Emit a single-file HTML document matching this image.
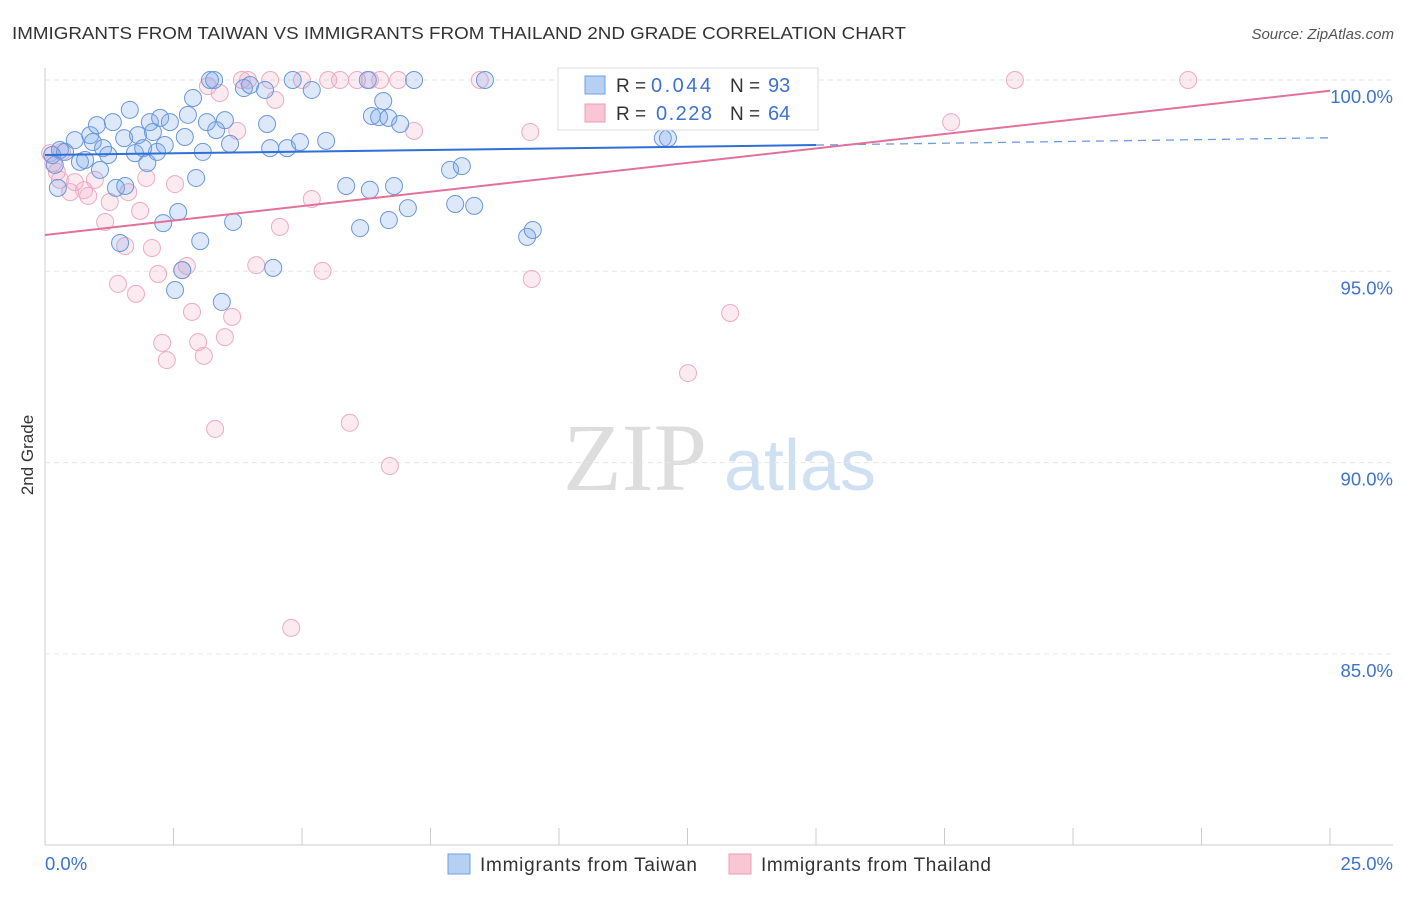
<!DOCTYPE html>
<html><head><meta charset="utf-8"><style>
body{margin:0;background:#fff;font-family:"Liberation Sans",sans-serif;}
</style></head><body>
<svg id="chart" width="1406" height="892" xmlns="http://www.w3.org/2000/svg" font-family="Liberation Sans, sans-serif">
<text x="12" y="39" font-size="17.5" fill="#333" textLength="894" lengthAdjust="spacingAndGlyphs">IMMIGRANTS FROM TAIWAN VS IMMIGRANTS FROM THAILAND 2ND GRADE CORRELATION CHART</text>
<text x="1394" y="39" font-size="15" fill="#555" text-anchor="end" font-style="italic">Source: ZipAtlas.com</text>
<text transform="translate(33,455) rotate(-90)" font-size="17" fill="#333" text-anchor="middle">2nd Grade</text>
<g>
<text x="635" y="490" font-size="96" fill="#ddd" font-family="Liberation Serif, serif" text-anchor="middle">ZIP</text>
<text x="800" y="490" font-size="72" fill="#cfe0f3" text-anchor="middle">atlas</text></g>
<g id="grid"></g><g id="axes"></g><g id="marks"></g>
<g>
<rect x="558" y="68" width="260" height="62" fill="#fff" stroke="#ddd"/>
<rect x="585" y="76" width="20" height="18" fill="#b6d0f3" stroke="#6f9fe0"/>
<rect x="585" y="104" width="20" height="18" fill="#f9c6d6" stroke="#eb9cb6"/>
<text x="616" y="92" font-size="19" fill="#333">R =</text>
<text x="651" y="92" font-size="20" fill="#3d72d0" textLength="60">0.044</text>
<text x="730" y="92" font-size="19" fill="#333">N =</text>
<text x="768" y="92" font-size="20" fill="#3d72d0">93</text>
<text x="616" y="120" font-size="19" fill="#333">R =</text>
<text x="656" y="120" font-size="20" fill="#3d72d0" textLength="56">0.228</text>
<text x="730" y="120" font-size="19" fill="#333">N =</text>
<text x="768" y="120" font-size="20" fill="#3d72d0">64</text>
</g>
<g>
<rect x="448" y="854" width="22" height="20" fill="#b6d0f3" stroke="#6f9fe0"/>
<text x="480" y="871" font-size="19" fill="#333" textLength="217">Immigrants from Taiwan</text>
<rect x="729" y="854" width="22" height="20" fill="#f9c6d6" stroke="#eb9cb6"/>
<text x="761" y="871" font-size="19" fill="#333" textLength="230">Immigrants from Thailand</text>
</g>
</svg>
<script>
const yTicks=[100,95,90,85];
const yTickLabels=["100.0%","95.0%","90.0%","85.0%"];
const xTickLabels=["0.0%","25.0%"];
const taiwanX=[0.14,0.29,0.19,0.25,0.39,0.58,0.68,0.78,0.88,0.93,1.01,1.07,1.13,1.23,1.32,1.38,1.46,1.56,1.54,1.65,1.75,1.81,1.91,1.99,2.04,2.10,2.18,2.24,2.33,2.30,2.43,2.53,2.59,2.67,2.72,2.78,2.88,2.94,3.02,3.07,3.15,3.21,3.29,3.33,3.44,3.50,3.60,3.66,3.87,3.99,4.28,4.32,4.38,4.44,4.71,4.82,4.96,5.19,5.47,5.86,6.13,6.28,6.32,6.36,6.50,6.58,6.69,6.68,6.79,6.91,7.06,7.18,7.88,7.98,8.11,8.35,8.56,9.38,9.49,12.02,12.12,11.77];
const taiwanY=[98.04,98.17,97.78,97.18,98.12,98.43,97.86,97.91,98.56,98.38,98.82,97.65,98.22,98.04,98.90,97.18,95.74,97.23,98.48,99.22,98.09,98.56,98.22,97.83,98.90,98.64,98.12,99.01,98.30,96.26,98.90,94.51,96.55,95.03,98.51,99.09,99.53,97.44,95.79,98.12,98.90,100,100,98.69,94.20,98.95,98.33,96.29,99.79,99.87,99.74,98.85,98.22,95.09,98.22,100,98.38,99.74,98.41,97.23,96.13,100,97.13,99.06,99.03,99.45,96.34,99.01,97.23,98.85,96.65,100,97.65,96.76,97.75,96.71,100,95.90,96.08,98.48,98.48,100];
const thaiX=[0.10,0.16,0.23,0.33,0.49,0.58,0.76,0.84,0.97,1.17,1.26,1.42,1.56,1.62,1.77,1.85,1.97,2.08,2.20,2.28,2.37,2.53,2.67,2.76,2.86,2.98,3.09,3.17,3.31,3.40,3.50,3.64,3.74,3.83,3.95,4.11,4.38,4.48,4.57,4.79,5.00,5.19,5.40,5.51,5.74,5.93,6.07,6.32,6.52,6.71,6.87,7.18,8.46,9.44,9.47,11.58,11.96,12.51,12.80,13.33,17.63,18.87,22.24,0.29];
const thaiY=[98.09,97.83,97.60,98.12,97.07,97.33,97.12,96.97,97.39,96.29,96.81,94.67,95.66,97.07,94.41,96.58,97.44,95.61,94.93,93.13,92.68,97.28,95.03,95.14,93.94,93.15,92.79,99.84,90.88,99.66,93.28,93.81,98.67,100,100,95.16,100,99.48,96.16,85.68,100,96.89,95.01,100,100,91.04,100,100,100,89.91,100,98.67,100,98.64,94.80,100,100,92.34,100,93.91,98.90,100,100,97.39];
const taiwanTrend=[[0,98.04],[15,98.30]];
const taiwanTrendExt=[[15,98.30],[25,98.49]];
const thaiTrend=[[0,95.95],[25,99.72]];
const X=v=>45+v/25*1285, Y=v=>80+(100-v)*38.26;
const NS="http://www.w3.org/2000/svg";
function mk(t,a,p){const e=document.createElementNS(NS,t);for(const k in a)e.setAttribute(k,a[k]);p.appendChild(e);return e;}
const grid=document.getElementById('grid'),axes=document.getElementById('axes'),marks=document.getElementById('marks');
yTicks.forEach((t,i)=>{
 const l=mk('line',{x1:45,x2:1393,y1:Y(t),y2:Y(t),stroke:'#e6e6e6','stroke-dasharray':'5,4'},grid);
 
 
 const tx=mk('text',{x:1393,y:Y(t)+23,'font-size':18.5,fill:'#3d72d0','text-anchor':'end'},axes);tx.textContent=yTickLabels[i];
 
 
});
const ax=mk('line',{x1:45,x2:1393,y1:845,y2:845,stroke:'#ccc'},axes);


const ay=mk('line',{x1:45,x2:45,y1:68,y2:845,stroke:'#ccc'},axes);


for(let i=0;i<=10;i++){const t=mk('line',{x1:X(i*2.5),x2:X(i*2.5),y1:828,y2:845,stroke:'#ccc'},axes);
 
 }
const xl0=mk('text',{x:45,y:870,'font-size':18.5,fill:'#3d72d0'},axes);xl0.textContent=xTickLabels[0];


const xl1=mk('text',{x:1393,y:870,'font-size':18.5,fill:'#3d72d0','text-anchor':'end'},axes);xl1.textContent=xTickLabels[1];


thaiX.forEach((v,i)=>{const c=mk('circle',{cx:X(v),cy:Y(thaiY[i]),r:8.5,fill:'rgba(244,170,198,0.25)',stroke:'#eeaac2','stroke-width':1},marks);
 
 });
taiwanX.forEach((v,i)=>{const c=mk('circle',{cx:X(v),cy:Y(taiwanY[i]),r:8.5,fill:'rgba(120,165,235,0.25)',stroke:'#6a98dc','stroke-width':1},marks);
 
 });
const l1=mk('line',{x1:X(taiwanTrend[0][0]),y1:Y(taiwanTrend[0][1]),x2:X(taiwanTrend[1][0]),y2:Y(taiwanTrend[1][1]),stroke:'#2f6fd6','stroke-width':2},marks);


const l2=mk('line',{x1:X(taiwanTrendExt[0][0]),y1:Y(taiwanTrendExt[0][1]),x2:X(taiwanTrendExt[1][0]),y2:Y(taiwanTrendExt[1][1]),stroke:'#6f9be0','stroke-width':1.3,'stroke-dasharray':'8,6'},marks);


const l3=mk('line',{x1:X(thaiTrend[0][0]),y1:Y(thaiTrend[0][1]),x2:X(thaiTrend[1][0]),y2:Y(thaiTrend[1][1]),stroke:'#e2719a','stroke-width':2},marks);


</script>
</body></html>
